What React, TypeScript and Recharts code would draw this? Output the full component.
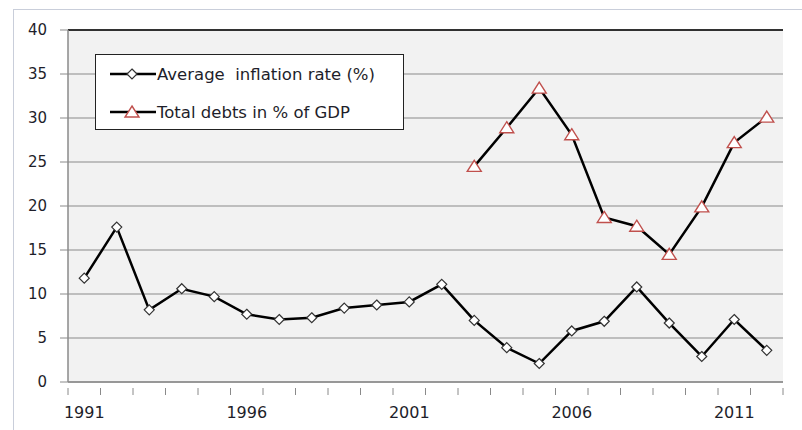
import React from 'react';
import { LineChart, Line, XAxis, YAxis, CartesianGrid, Legend, ReferenceLine } from 'recharts';

const YEARS = [1991, 1992, 1993, 1994, 1995, 1996, 1997, 1998, 1999, 2000, 2001, 2002, 2003, 2004, 2005, 2006, 2007, 2008, 2009, 2010, 2011, 2012];
const INFLATION = [11.8, 17.6, 8.2, 10.6, 9.7, 7.7, 7.1, 7.3, 8.4, 8.75, 9.1, 11.1, 7.0, 3.9, 2.1, 5.8, 6.9, 10.8, 6.7, 2.9, 7.1, 3.6];
const DEBTS = [null, null, null, null, null, null, null, null, null, null, null, null, 24.5, 28.9, 33.4, 28.1, 18.7, 17.7, 14.5, 19.9, 27.2, 30.1];
const X_LABELS = [1991, 1996, 2001, 2006, 2011];
const Y_TICKS = [0, 5, 10, 15, 20, 25, 30, 35, 40];
const SERIES_NAMES = ['Average  inflation rate (%)', 'Total debts in % of GDP'];

// category boundaries: tick marks sit between the years, labels in the middle
const BOUNDS = [...YEARS.map((y) => y - 0.5), YEARS[YEARS.length - 1] + 0.5];

const data = YEARS.map((year, i) => ({ year, inflation: INFLATION[i], debts: DEBTS[i] }));

const FONT = '"DejaVu Sans", Verdana, sans-serif';
const RED = '#c0504d';
const AXIS_GRAY = '#8a8a8a';

const Diamond = ({ cx, cy }: { cx: number; cy: number }) => (
  <polygon points={`${cx},${cy - 5} ${cx + 5},${cy} ${cx},${cy + 5} ${cx - 5},${cy}`} fill="#fff" stroke="#333" strokeWidth={1.2} />
);

const Triangle = ({ cx, cy }: { cx: number; cy: number }) => (
  <polygon points={`${cx},${cy - 6} ${cx + 7},${cy + 5} ${cx - 7},${cy + 5}`} fill="#fff" stroke={RED} strokeWidth={1.4} />
);

const renderDiamond = (p: any) => {
  if (p.cx == null || p.cy == null || p.value == null) return <g key={p.index} />;
  return <Diamond key={p.index} cx={p.cx} cy={p.cy} />;
};

const renderTriangle = (p: any) => {
  if (p.cx == null || p.cy == null || p.value == null) return <g key={p.index} />;
  return <Triangle key={p.index} cx={p.cx} cy={p.cy} />;
};

const YearTick = (props: any) => {
  const { x, y, payload, width } = props;
  const half = width / (BOUNDS.length - 1) / 2;
  const year = payload.value + 0.5;
  const axisY = y - 2; // recharts passes y past the tick offset
  return (
    <g>
      <line x1={x} y1={axisY} x2={x} y2={axisY + 7} stroke={AXIS_GRAY} />
      {X_LABELS.includes(year) && (
        <text x={x + half} y={axisY + 30} textAnchor="middle" fill="#1e1e2a" fontFamily={FONT} fontSize={16}>
          {year}
        </text>
      )}
    </g>
  );
};

const LegendBox = () => (
  <div style={{ width: 309, height: 76, border: '1.5px solid #222', background: '#fff', fontFamily: FONT, fontSize: 16.5, color: '#1e1e2a', boxSizing: 'border-box', position: 'relative' }}>
    {SERIES_NAMES.map((name, i) => (
      <div key={name} style={{ position: 'absolute', left: 14, top: 6 + i * 38, display: 'flex', alignItems: 'center', height: 26 }}>
        <svg width={46} height={20}>
          <line x1={0} y1={10} x2={46} y2={10} stroke="#000" strokeWidth={2.5} />
          {i === 0 ? <Diamond cx={22} cy={10} /> : <Triangle cx={22} cy={10} />}
        </svg>
        <span style={{ whiteSpace: 'pre', marginLeft: 1 }}>{name}</span>
      </div>
    ))}
  </div>
);

export default function App() {
  return (
    <div style={{ position: 'absolute', left: 0, top: 0, width: 802, height: 430, background: '#fff' }}>
      <div style={{ position: 'absolute', left: 13, top: 9, right: 0, bottom: 0, borderTop: '1px solid #c9ceda', borderLeft: '1px solid #c9ceda' }} />
      <LineChart width={802} height={430} data={data} margin={{ top: 30, right: 19, bottom: 0, left: 0 }}>
        <CartesianGrid horizontal vertical={false} stroke={AXIS_GRAY} fill="#f2f2f2" />
        <XAxis
          dataKey="year"
          type="number"
          domain={[BOUNDS[0], BOUNDS[BOUNDS.length - 1]]}
          ticks={BOUNDS}
          interval={0}
          height={48}
          axisLine={{ stroke: AXIS_GRAY, strokeWidth: 1.5 }}
          tickLine={false}
          tickMargin={2}
          tick={<YearTick />}
        />
        <YAxis
          domain={[0, 40]}
          ticks={Y_TICKS}
          width={68}
          tickSize={8}
          tickMargin={13}
          axisLine={{ stroke: AXIS_GRAY, strokeWidth: 1.5 }}
          tickLine={{ stroke: AXIS_GRAY }}
          tick={{ fill: '#1e1e2a', fontFamily: FONT, fontSize: 15 }}
        />
        <YAxis yAxisId="r" orientation="right" domain={[0, 40]} width={0} tick={false} tickLine={false} axisLine={{ stroke: '#000', strokeWidth: 2 }} />
        <ReferenceLine y={40} stroke="#000" strokeWidth={1.5} />
        <Legend
          layout="vertical"
          align="center"
          verticalAlign="middle"
          content={() => <LegendBox />}
          wrapperStyle={{ left: 95, top: 54, width: 309, height: 76 }}
        />
        <Line dataKey="inflation" stroke="#000" strokeWidth={2.5} dot={renderDiamond} isAnimationActive={false} />
        <Line dataKey="debts" stroke="#000" strokeWidth={2.5} dot={renderTriangle} isAnimationActive={false} />
      </LineChart>
    </div>
  );
}
